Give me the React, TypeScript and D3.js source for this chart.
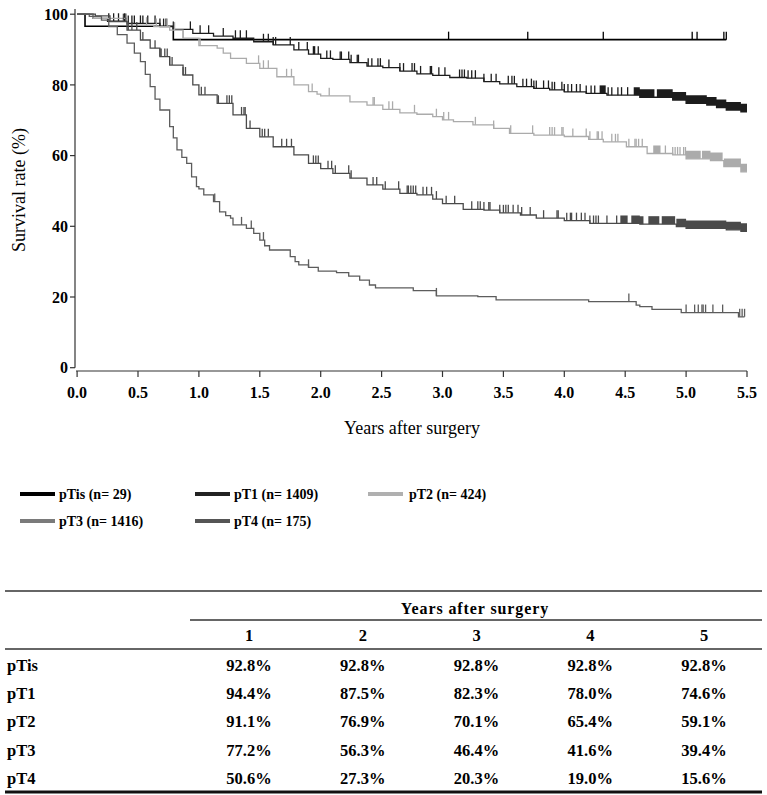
import React from "react";
import * as d3 from "d3";

// survival curves: [years, survival %] step points
const groups = ["pTis", "pT1", "pT2", "pT3", "pT4"];
const groupN = [29, 1409, 424, 1416, 175];
const lineColors = ["#000000", "#1c1c1c", "#ababab", "#4a4a4a", "#5c5c5c"];
const legendColors = ["#000000", "#222222", "#b0b0b0", "#7a7a7a", "#555555"];
const followEnd = [5.33, 5.5, 5.5, 5.5, 5.48];

const pTisSteps = [[0, 100], [0.065, 96.6], [0.79, 92.8]];
const pT1Steps = [
  [0, 100], [0.13, 98.8], [0.25, 98.0], [0.41, 97.4], [0.68, 96.5], [0.79, 95.7], [0.95, 94.6],
  [1.12, 93.8], [1.28, 93.2], [1.45, 92.2], [1.61, 91.3], [1.78, 89.9], [1.9, 88.7], [2.0, 87.5],
  [2.1, 87.2], [2.24, 86.3], [2.38, 85.3], [2.51, 84.9], [2.65, 83.9], [2.79, 83.1], [2.92, 82.7],
  [3.06, 82.1], [3.2, 81.9], [3.34, 80.9], [3.47, 80.3], [3.61, 79.5], [3.75, 79.0], [3.88, 78.6],
  [4.0, 78.0], [4.18, 77.6], [4.35, 77.1], [4.62, 76.5], [4.89, 75.7], [5.0, 74.8], [5.17, 74.3],
  [5.25, 73.6], [5.33, 72.9], [5.45, 72.4],
];
const pT2Steps = [
  [0, 100], [0.13, 98.8], [0.41, 96.9], [0.63, 96.5], [0.76, 95.5], [0.87, 93.2], [1.0, 91.1],
  [1.15, 90.4], [1.2, 89.0], [1.26, 87.5], [1.39, 86.1], [1.5, 84.7], [1.64, 82.3], [1.78, 80.0],
  [1.9, 78.1], [1.97, 77.4], [2.0, 76.9], [2.24, 75.2], [2.38, 74.3], [2.51, 73.1], [2.65, 72.1],
  [2.79, 71.7], [2.92, 71.0], [3.0, 70.1], [3.09, 69.6], [3.25, 68.7], [3.42, 67.7], [3.55, 66.3],
  [3.75, 65.8], [4.0, 65.4], [4.2, 64.6], [4.32, 63.9], [4.51, 62.5], [4.68, 60.6], [4.89, 60.2],
  [5.0, 59.1], [5.2, 58.6], [5.31, 56.9], [5.45, 55.4],
];
const pT3Steps = [
  [0, 100], [0.15, 99.5], [0.27, 97.9], [0.41, 95.5], [0.52, 92.7], [0.6, 90.4], [0.68, 88.0],
  [0.76, 85.6], [0.87, 82.8], [0.95, 80.0], [1.0, 77.2], [1.15, 74.8], [1.28, 71.5], [1.39, 67.7],
  [1.5, 65.3], [1.61, 62.5], [1.78, 60.2], [1.9, 57.8], [2.0, 56.3], [2.1, 55.0], [2.24, 53.6],
  [2.38, 51.7], [2.51, 50.5], [2.65, 49.3], [2.79, 48.9], [2.92, 47.7], [3.0, 46.4], [3.17, 44.8],
  [3.34, 44.6], [3.47, 43.8], [3.64, 43.2], [3.77, 42.3], [4.0, 41.6], [4.21, 40.8], [4.62, 40.6],
  [4.92, 39.9], [5.0, 39.4], [5.33, 39.0], [5.45, 38.6],
];
const pT4Steps = [
  [0, 100], [0.1, 99.4], [0.2, 98.3], [0.26, 96.5], [0.33, 94.2], [0.41, 91.8], [0.47, 89.0],
  [0.52, 86.6], [0.56, 83.0], [0.6, 79.5], [0.64, 76.0], [0.68, 72.9], [0.76, 68.2], [0.79, 65.0],
  [0.82, 61.6], [0.86, 59.5], [0.9, 57.8], [0.94, 54.0], [0.98, 51.2], [1.0, 50.6], [1.04, 48.9],
  [1.12, 47.0], [1.17, 44.1], [1.22, 43.0], [1.26, 42.3], [1.28, 40.4], [1.39, 39.4], [1.45, 38.0],
  [1.5, 36.1], [1.54, 34.5], [1.58, 33.3], [1.75, 31.4], [1.79, 30.0], [1.82, 29.1], [1.9, 28.4],
  [1.98, 27.3], [2.13, 26.9], [2.23, 25.9], [2.32, 24.8], [2.4, 23.4], [2.45, 22.6], [2.76, 21.8],
  [2.95, 20.3], [3.29, 20.1], [3.44, 19.2], [4.2, 18.7], [4.59, 17.7], [4.62, 17.3], [4.72, 16.5],
  [4.96, 15.6], [5.43, 14.4],
];

// censoring marks (years)
const pTisCensor = [3.05, 3.7, 4.32, 5.05, 5.09, 5.31, 5.33];
const pT1Censor = [
  0.26, 0.3, 0.34, 0.39, 0.42, 0.45, 0.47, 0.52, 0.54, 0.58, 0.64, 0.68, 0.71, 0.73, 0.79, 0.93,
  1.01, 1.08, 1.2, 1.3, 1.34, 1.39, 1.53, 1.57, 1.61, 1.63, 1.75, 1.82, 1.89, 1.94, 1.95, 1.98,
  2.05, 2.08, 2.16, 2.17, 2.23, 2.25, 2.3, 2.31, 2.39, 2.42, 2.47, 2.49, 2.56, 2.65, 2.68, 2.75,
  2.77, 2.82, 2.9, 2.91, 2.97, 3.02, 3.14, 3.16, 3.18, 3.21, 3.24, 3.27, 3.34, 3.4, 3.44, 3.54,
  3.57, 3.59, 3.66, 3.69, 3.73, 3.75, 3.77, 3.83, 3.87, 3.9, 3.92, 3.98, 4.0, 4.03, 4.06, 4.1,
  4.13, 4.18, 4.22, 4.25, 4.36, 4.39, 4.44, 4.47, 4.52,
];
const pT2Censor = [
  0.57, 0.65, 0.74, 0.8, 0.87, 1.01, 1.49, 1.53, 1.57, 1.72, 1.76, 1.93, 2.07, 2.43, 2.44, 2.56,
  2.59, 2.77, 2.95, 3.01, 3.05, 3.27, 3.42, 3.56, 3.74, 3.88, 3.9, 3.92, 3.98, 3.99, 4.07, 4.18,
  4.21, 4.27, 4.28, 4.31, 4.39, 4.42, 4.44, 4.53, 4.58, 4.59, 4.61, 4.64, 4.83, 4.89, 4.91, 4.93,
  4.95, 4.98,
];
const pT3Censor = [
  0.38, 0.4, 0.42, 0.45, 0.49, 0.54, 0.64, 0.68, 0.69, 0.72, 0.74, 0.76, 0.78, 0.87, 0.89, 1.02,
  1.05, 1.16, 1.23, 1.25, 1.27, 1.35, 1.37, 1.38, 1.42, 1.52, 1.54, 1.57, 1.68, 1.72, 1.76, 1.94,
  1.96, 1.98, 2.06, 2.09, 2.12, 2.23, 2.25, 2.43, 2.46, 2.53, 2.64, 2.71, 2.72, 2.74, 2.76, 2.78,
  2.84, 2.87, 2.91, 2.95, 3.03, 3.1, 3.24, 3.29, 3.31, 3.34, 3.38, 3.39, 3.47, 3.5, 3.52, 3.54,
  3.58, 3.62, 3.65, 3.72, 3.83, 3.94, 3.95, 4.02, 4.05, 4.06, 4.1, 4.14, 4.17, 4.21, 4.24, 4.26,
  4.28, 4.35, 4.43,
];
const pT4Censor = [
  1.13, 1.35, 1.43, 1.53, 1.9, 2.95, 4.53, 5.0, 5.07, 5.1, 5.13, 5.14, 5.16, 5.22, 5.3, 5.44,
  5.46, 5.48,
];

// stretches where censor marks run together into a solid band [from, to]
const pTisBands: number[][] = [];
const pT1Bands = [[4.29, 4.34], [4.57, 4.74], [4.76, 5.5]];
const pT2Bands = [[4.73, 4.79], [4.99, 5.12], [5.13, 5.3], [5.31, 5.5]];
const pT3Bands = [[4.46, 4.52], [4.55, 4.65], [4.69, 4.78], [4.8, 4.91], [4.92, 5.5]];
const pT4Bands: number[][] = [];

const allSteps = [pTisSteps, pT1Steps, pT2Steps, pT3Steps, pT4Steps];
const allCensor = [pTisCensor, pT1Censor, pT2Censor, pT3Censor, pT4Censor];
const allBands = [pTisBands, pT1Bands, pT2Bands, pT3Bands, pT4Bands];

const xTicks = [0, 0.5, 1, 1.5, 2, 2.5, 3, 3.5, 4, 4.5, 5, 5.5];
const yTicks = [0, 20, 40, 60, 80, 100];

// table underneath
const tableYears = [1, 2, 3, 4, 5];
const ratesTis = [92.8, 92.8, 92.8, 92.8, 92.8];
const ratesT1 = [94.4, 87.5, 82.3, 78.0, 74.6];
const ratesT2 = [91.1, 76.9, 70.1, 65.4, 59.1];
const ratesT3 = [77.2, 56.3, 46.4, 41.6, 39.4];
const ratesT4 = [50.6, 27.3, 20.3, 19.0, 15.6];
const tableRates = [ratesTis, ratesT1, ratesT2, ratesT3, ratesT4];

const W = 767;
const H = 795;
const FONT = "'Liberation Serif', 'Times New Roman', serif";
const TICK_H = 8;

const x = d3.scaleLinear().domain([0, 5.5]).range([77.1, 747]);
const y = d3.scaleLinear().domain([0, 100]).range([367.7, 14.2]);

function survAt(steps: number[][], t: number) {
  let v = steps[0][1];
  for (const s of steps) if (s[0] <= t) v = s[1];
  return v;
}

const line = d3
  .line<number[]>()
  .x((d) => x(d[0]))
  .y((d) => y(d[1]))
  .curve(d3.curveStepAfter);

const band = d3
  .area<number[]>()
  .x((d) => x(d[0]))
  .y0((d) => y(d[1]))
  .y1((d) => y(d[1]) - TICK_H)
  .curve(d3.curveStepAfter);

function bandPoints(steps: number[][], a: number, b: number) {
  const pts = [[a, survAt(steps, a)]];
  steps.forEach((s) => {
    if (s[0] > a && s[0] < b) pts.push(s);
  });
  pts.push([b, survAt(steps, b)]);
  return pts;
}

const legendCols = [20, 195, 368];
const legendRows = [494, 521];
const colX = d3.scalePoint<number>().domain(tableYears).range([249, 704]);
const rowY = d3.scalePoint<string>().domain(groups).range([665, 778]);

export default function App() {
  return (
    <svg
      width={W}
      height={H}
      style={{ position: "absolute", left: 0, top: 0, background: "#fff" }}
      fontFamily={FONT}
    >
      {/* axes */}
      <line x1={75} x2={75} y1={9} y2={y(0)} stroke="#333" strokeWidth={1.2} />
      {yTicks.map((t) => (
        <g key={"y" + t}>
          <line x1={70} x2={75} y1={y(t)} y2={y(t)} stroke="#333" strokeWidth={1.2} />
          <text x={68} y={y(t)} dy="0.35em" textAnchor="end" fontSize={16} fontWeight="bold">
            {t}
          </text>
        </g>
      ))}
      <line x1={76} x2={x(5.5)} y1={371} y2={371} stroke="#333" strokeWidth={1.2} />
      {xTicks.map((t) => (
        <g key={"x" + t}>
          <line x1={x(t)} x2={x(t)} y1={371} y2={377} stroke="#333" strokeWidth={1.2} />
          <text x={x(t)} y={392} dy="0.35em" textAnchor="middle" fontSize={16} fontWeight="bold">
            {t.toFixed(1)}
          </text>
        </g>
      ))}
      <text
        transform="translate(19,190) rotate(-90)"
        textAnchor="middle"
        dy="0.35em"
        fontSize={18}
      >
        Survival rate (%)
      </text>
      <text x={412} y={428} dy="0.35em" textAnchor="middle" fontSize={18}>
        Years after surgery
      </text>

      {/* curves */}
      {groups.map((g, i) => {
        const steps = allSteps[i];
        const pts = [...steps, [followEnd[i], steps[steps.length - 1][1]]];
        const c = lineColors[i];
        return (
          <g key={g}>
            <path d={line(pts) || ""} fill="none" stroke={c} strokeWidth={i === 0 ? 1.6 : 1.3} />
            {allCensor[i].map((t, k) => (
              <line
                key={k}
                x1={x(t)}
                x2={x(t)}
                y1={y(survAt(steps, t))}
                y2={y(survAt(steps, t)) - TICK_H}
                stroke={c}
                strokeWidth={1.3}
              />
            ))}
            {allBands[i].map((b, k) => (
              <path key={"b" + k} d={band(bandPoints(steps, b[0], b[1])) || ""} fill={c} />
            ))}
          </g>
        );
      })}

      {/* legend */}
      {groups.map((g, i) => {
        const lx = legendCols[i < 3 ? i : i - 3];
        const ly = legendRows[i < 3 ? 0 : 1];
        return (
          <g key={"lg" + g}>
            <line x1={lx} x2={lx + 35} y1={ly} y2={ly} stroke={legendColors[i]} strokeWidth={4} />
            <text x={lx + (i === 2 ? 41 : 39)} y={ly} dy="0.35em" fontSize={14} fontWeight="bold">
              {`${g} (n= ${groupN[i]})`}
            </text>
          </g>
        );
      })}

      {/* table */}
      <g fontWeight="bold" fontSize={16.5}>
        <line x1={5} x2={762} y1={591} y2={591} stroke="#333" strokeWidth={1.5} />
        <text x={475} y={608} dy="0.35em" textAnchor="middle" fontSize={16} letterSpacing={0.9}>
          Years after surgery
        </text>
        <line x1={190} x2={762} y1={620} y2={620} stroke="#333" strokeWidth={1.5} />
        {tableYears.map((yr) => (
          <text key={"h" + yr} x={colX(yr)} y={635} dy="0.35em" textAnchor="middle">
            {yr}
          </text>
        ))}
        <line x1={5} x2={762} y1={649} y2={649} stroke="#333" strokeWidth={1.5} />
        {groups.map((g, i) => (
          <g key={"row" + g}>
            <text x={7} y={rowY(g)} dy="0.35em">
              {g}
            </text>
            {tableRates[i].map((v, k) => (
              <text key={k} x={colX(tableYears[k])} y={rowY(g)} dy="0.35em" textAnchor="middle">
                {v.toFixed(1) + "%"}
              </text>
            ))}
          </g>
        ))}
        <line x1={5} x2={762} y1={792} y2={792} stroke="#111" strokeWidth={3} />
      </g>
    </svg>
  );
}
